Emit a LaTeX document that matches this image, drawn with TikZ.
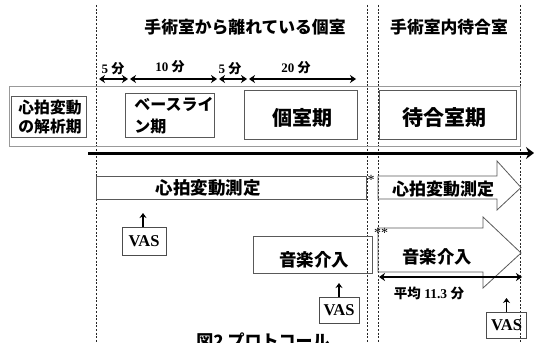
\documentclass[tikz,border=0pt]{standalone}
\usepackage{fontspec}
\setmainfont{Liberation Serif}
\newfontfamily\jp{Noto Sans CJK JP}
\usetikzlibrary{arrows.meta}
\begin{document}
\begin{tikzpicture}[x=1pt,y=-1pt,
  vline/.style={draw=black!85, line width=0.6pt, dash pattern=on 2pt off 1.6pt},
  gbox/.style={draw=black!65, line width=0.8pt, inner sep=0pt},
  outerbox/.style={draw=black!40, line width=0.8pt, inner sep=0pt},
  dur/.style={{Stealth[length=6pt,width=8pt]}-{Stealth[length=6pt,width=8pt]}, line width=1.9pt},
  durlbl/.style={font=\fontsize{13}{13}\selectfont\bfseries, inner sep=0pt},
  hdr/.style={font=\jp\bfseries\fontsize{16.8}{16.8}\selectfont, inner sep=0pt},
  jtxt/.style={font=\jp\bfseries\fontsize{#1}{#1}\selectfont, inner sep=0pt},
  vas/.style={draw=black!70, line width=0.8pt, font=\fontsize{16.5}{16.5}\selectfont\bfseries, minimum width=40pt, minimum height=26pt, inner sep=0pt},
  vasarrow/.style={-{Stealth[length=5pt,width=7pt]}, line width=1.4pt},
  block/.style={draw=black!65, line width=0.8pt, line join=miter},
  star/.style={inner sep=0pt, font=\fontsize{14}{14}\selectfont}
]
\useasboundingbox (0,0) rectangle (534,342);
% vertical dashed lines
\coordinate (v1t) at (96,5);   \coordinate (v1b) at (96,342);
\coordinate (v2t) at (367,5);  \coordinate (v2b) at (367,342);
\coordinate (v3t) at (378,5);  \coordinate (v3b) at (378,342);
\coordinate (v4t) at (520,5);  \coordinate (v4b) at (520,342);
\draw[vline] (v1t) -- (v1b);
\draw[vline] (v2t) -- (v2b);
\draw[vline] (v3t) -- (v3b);
\draw[vline] (v4t) -- (v4b);
% headers
\node[hdr] (h1) at (245,27) {手術室から離れている個室};
\node[hdr] (h2) at (449,27) {手術室内待合室};
% duration arrows
\coordinate (a1s) at (99,79); \coordinate (a1e) at (128,79);
\coordinate (a2s) at (130,79); \coordinate (a2e) at (217,79);
\coordinate (a3s) at (219,79); \coordinate (a3e) at (247,79);
\coordinate (a4s) at (249,79); \coordinate (a4e) at (356,79);
\draw[dur] (a1s) -- (a1e);
\draw[dur] (a2s) -- (a2e);
\draw[dur] (a3s) -- (a3e);
\draw[dur] (a4s) -- (a4e);
\node[durlbl] (l1) at (113,69) {5 {\jp 分}};
\node[durlbl] (l2) at (170,67) {10 {\jp 分}};
\node[durlbl] (l3) at (230,69) {5 {\jp 分}};
\node[durlbl] (l4) at (296,68) {20 {\jp 分}};
% outer band
\node[outerbox, minimum width=511pt, minimum height=60pt] (band) at (264.5,116) {};
% phase boxes
\node[gbox, minimum width=75pt, minimum height=41pt] (ana) at (48.5,116.5) {};
\node[jtxt=15.8, align=left] (anat) at (50,117) {心拍変動\\[3pt]の解析期};
\node[gbox, minimum width=89pt, minimum height=44pt] (base) at (169.5,115) {};
\node[jtxt=16, align=left] (baset) at (174,116) {ベースライ\\[6pt]ン期};
\node[gbox, minimum width=113pt, minimum height=49pt] (priv) at (300.5,114.5) {};
\node[jtxt=20] (privt) at (302,118) {個室期};
\node[gbox, minimum width=137pt, minimum height=49pt] (wait) at (447.5,114.5) {};
\node[jtxt=21] (waitt) at (444,118) {待合室期};
% timeline
\coordinate (ts) at (88,153); \coordinate (te) at (534,153);
\draw[line width=3pt, -{Stealth[length=8pt,width=12pt]}] (ts) -- (te);
% HRV measurement
\node[gbox, minimum width=270pt, minimum height=23pt] (hrv1) at (231,187.5) {};
\node[jtxt=17.5] (hrv1t) at (208,188) {心拍変動測定};
\node[star] (s1) at (371,180) {*};
\draw[block] (378,176) -- (497,176) -- (497,161) -- (521,187.5) -- (497,210) -- (497,199) -- (378,199) -- cycle;
\node[jtxt=17] (hrv2t) at (443,189) {心拍変動測定};
% music intervention
\node[gbox, minimum width=119pt, minimum height=37pt] (mus1) at (312.5,254.5) {};
\node[jtxt=17.5] (mus1t) at (314,260) {音楽介入};
\node[star] (s2) at (381,233) {**};
\draw[block] (378,228) -- (483,228) -- (483,217) -- (521,253) -- (483,288) -- (483,272) -- (378,272) -- cycle;
\node[jtxt=17.3] (mus2t) at (437,257) {音楽介入};
% average duration
\coordinate (avs) at (379,277); \coordinate (ave) at (522,277);
\draw[{Stealth[length=6pt,width=8pt]}-{Stealth[length=6pt,width=8pt]}, line width=1.6pt] (avs) -- (ave);
\node[inner sep=0pt, font=\fontsize{13.5}{13.5}\selectfont\bfseries] (avl) at (429,293) {{\jp 平均} 11.3 {\jp 分}};
% VAS
\node[vas, minimum width=44pt, minimum height=28pt] (vas1) at (144,241) {VAS};
\coordinate (vt1) at (143,213);
\draw[vasarrow] (vas1.north -| vt1) -- (vt1);
\node[vas] (vas2) at (339,310) {VAS};
\coordinate (vt2) at (339,283);
\draw[vasarrow] (vas2.north) -- (vt2);
\node[vas] (vas3) at (506.5,325.5) {VAS};
\coordinate (vt3) at (506.5,298);
\draw[vasarrow] (vas3.north) -- (vt3);
% caption (cut off at bottom, as in the reference)
\node[jtxt=17, anchor=north] (cap) at (263,333) {図2 プロトコール};
\end{tikzpicture}
\end{document}
